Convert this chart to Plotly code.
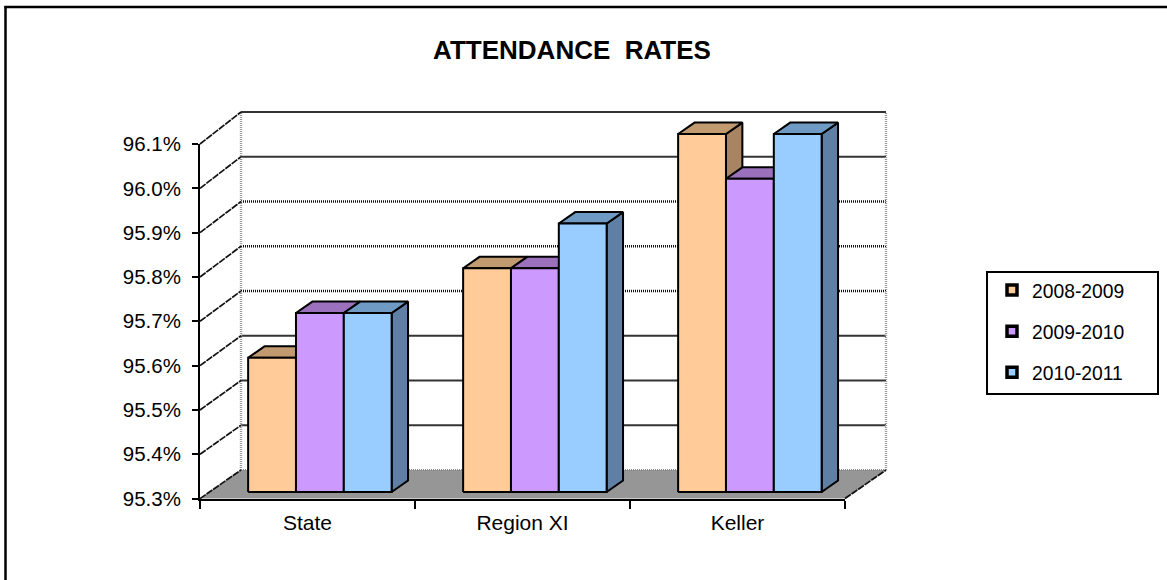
import plotly.graph_objects as go

categories = ["State", "Region XI", "Keller"]
series_names = ["2008-2009", "2009-2010", "2010-2011"]
values_2008 = [95.6, 95.8, 96.1]
values_2009 = [95.7, 95.8, 96.0]
values_2010 = [95.7, 95.9, 96.1]
series_values = [values_2008, values_2009, values_2010]
front_colors = ["#FFCC99", "#CC99FF", "#99CCFF"]
top_colors = ["#C29A70", "#9B70BD", "#6F9AC4"]
side_colors = ["#A88462", "#86649F", "#5F7FA5"]
y_ticks = [95.3, 95.4, 95.5, 95.6, 95.7, 95.8, 95.9, 96.0, 96.1]

W, H = 1167, 580
FONT = "Liberation Sans, Arial, sans-serif"
# page layout of the projected chart
X0, CAT_W = 200.0, 215.0
Y0, Y_TOP_FRONT = 498.6, 144.0
Y_SCALE = 447.5             # pixels per 1.0 on the value scale (wall and bars)
FRONT_SCALE = (Y0 - Y_TOP_FRONT) / (y_ticks[-1] - y_ticks[0])
DEPTH_X, DEPTH_Y = 41.0 / CAT_W, 28.6 / Y_SCALE
BAR_START, BAR_W = 0.18, 0.2225
BAR_FRONT_DEPTH, BAR_DEPTH = 0.23, 0.4
VBASE = y_ticks[0]


def px(p):
    return p / W


def py(p):
    return 1 - p / H


def P(cat, val, depth=0.0):
    return cat + depth * DEPTH_X, val + depth * DEPTH_Y


def poly(pts, fill, name):
    xs = [p[0] for p in pts] + [pts[0][0]]
    ys = [p[1] for p in pts] + [pts[0][1]]
    return go.Scatter(x=xs, y=ys, mode="lines", fill="toself", fillcolor=fill,
                      line=dict(color="#000000", width=2), xaxis="x2", yaxis="y2",
                      showlegend=False, hoverinfo="skip", name=name)


def line(pts, color, width, dash="solid"):
    return go.Scatter(x=[p[0] for p in pts], y=[p[1] for p in pts], mode="lines",
                      line=dict(color=color, width=width, dash=dash), xaxis="x2", yaxis="y2",
                      showlegend=False, hoverinfo="skip")


fig = go.Figure()

# invisible trace that carries the real axes
fig.add_trace(go.Scatter(x=categories, y=values_2008, mode="markers", marker=dict(opacity=0),
                         showlegend=False, hoverinfo="skip"))

n = len(categories)
# back wall gridlines
for v in y_ticks[1:]:
    dotted = 95.65 < v < 95.95
    a, b = P(0, v, 1), P(n, v, 1)
    if dotted:
        fig.add_trace(line([a, b], "#111111", 2.4, "1px,1px"))
    else:
        fig.add_trace(line([a, b], "#333333", 1.8))
# floor
fig.add_trace(go.Scatter(
    x=[P(0, VBASE)[0], P(n, VBASE)[0], P(n, VBASE, 1)[0], P(0, VBASE, 1)[0], P(0, VBASE)[0]],
    y=[P(0, VBASE)[1], P(n, VBASE)[1], P(n, VBASE, 1)[1], P(0, VBASE, 1)[1], P(0, VBASE)[1]],
    mode="lines", fill="toself", fillcolor="#969696", line=dict(width=0, color="#969696"),
    xaxis="x2", yaxis="y2", showlegend=False, hoverinfo="skip"))
# wall edges
for c in (0, n):
    fig.add_trace(line([P(c, VBASE, 1), P(c, y_ticks[-1], 1)], "#999999", 2.4, "1px,1px"))
fig.add_trace(line([P(0, VBASE, 1), P(n, VBASE, 1)], "#888888", 2, "1px,1px"))
# side wall diagonals, starting on the front axis scale
for v in y_ticks:
    vf = VBASE + (v - VBASE) * FRONT_SCALE / Y_SCALE
    fig.add_trace(line([(0, vf), P(0, v, 1)], "#111111", 1.7, "7px,1px"))
fig.add_trace(line([P(n, VBASE), P(n, VBASE, 1)], "#111111", 1.8, "7px,1px"))

# bars, painted left to right
for ci in range(n):
    for si in range(3):
        v = series_values[si][ci]
        l = ci + BAR_START + si * BAR_W
        r = l + BAR_W
        d0, d1 = BAR_FRONT_DEPTH, BAR_FRONT_DEPTH + BAR_DEPTH
        # side and top first, then front face
        fig.add_trace(poly([P(r, VBASE, d0), P(r, VBASE, d1), P(r, v, d1), P(r, v, d0)],
                           side_colors[si], series_names[si]))
        fig.add_trace(poly([P(l, v, d0), P(r, v, d0), P(r, v, d1), P(l, v, d1)],
                           top_colors[si], series_names[si]))
        fig.add_trace(poly([P(l, VBASE, d0), P(r, VBASE, d0), P(r, v, d0), P(l, v, d0)],
                           front_colors[si], series_names[si]))

# legend entries
for si, name in enumerate(series_names):
    fig.add_trace(go.Scatter(x=[None], y=[None], mode="markers", name=name, legendgroup=name,
                             marker=dict(symbol="square", size=10, color=front_colors[si],
                                         line=dict(color="#000000", width=3.5)),
                             xaxis="x2", yaxis="y2"))

# extended overlay axes, sharing the scale of the chart
L2, R2, T2, B2 = 190.0, 905.0, 100.0, 510.0
fig.update_layout(
    width=W, height=H, autosize=False,
    margin=dict(l=0, r=0, t=0, b=0, autoexpand=False),
    paper_bgcolor="#FFFFFF", plot_bgcolor="rgba(0,0,0,0)",
    font=dict(family=FONT, color="#000000"),
    title=dict(text="ATTENDANCE  RATES", x=572 / W, xanchor="center", y=py(50), yanchor="middle",
               font=dict(size=26, family=FONT, color="#000000", weight="bold")),
    xaxis=dict(type="category", categoryorder="array", categoryarray=categories,
               range=[-0.5, 2.5],
               domain=[px(X0), px(X0 + CAT_W * n)], anchor="y",
               tickson="boundaries", ticks="outside", ticklen=8, tickwidth=2, tickcolor="#000000",
               ticklabelstandoff=4,
               showline=True, linecolor="#000000", linewidth=2, showgrid=False, zeroline=False,
               tickfont=dict(size=21, family=FONT, color="#000000")),
    yaxis=dict(domain=[py(Y0), py(Y_TOP_FRONT)], range=[y_ticks[0], y_ticks[-1]], anchor="x",
               tickmode="array", tickvals=y_ticks, ticktext=[f"{v:.1f}%" for v in y_ticks],
               ticks="outside", ticklen=6, tickwidth=2, tickcolor="#000000",
               ticklabelstandoff=7,
               showline=True, linecolor="#000000", linewidth=2, showgrid=False, zeroline=False,
               tickfont=dict(size=20.5, family=FONT, color="#000000")),
    xaxis2=dict(domain=[px(L2), px(R2)], range=[(L2 - X0) / CAT_W, (R2 - X0) / CAT_W],
                anchor="y2", visible=False),
    yaxis2=dict(domain=[py(B2), py(T2)],
                range=[VBASE + (Y0 - B2) / Y_SCALE, VBASE + (Y0 - T2) / Y_SCALE],
                anchor="x2", visible=False),
    legend=dict(x=px(992), xanchor="left", y=py(271), yanchor="top", bgcolor="rgba(0,0,0,0)",
                borderwidth=0, tracegroupgap=13, font=dict(size=19.3, family=FONT, color="#000000"),
                itemclick=False, itemdoubleclick=False),
    shapes=[
        dict(type="line", xref="paper", yref="paper", x0=px(4.5), x1=1, y0=py(7), y1=py(7),
             line=dict(color="#000000", width=2.5)),
        dict(type="line", xref="paper", yref="paper", x0=px(5.5), x1=px(5.5), y0=py(6), y1=0,
             line=dict(color="#000000", width=2.5)),
        dict(type="rect", xref="paper", yref="paper", x0=px(987), x1=px(1158), y0=py(394), y1=py(272),
             line=dict(color="#000000", width=2)),
    ],
)
fig.write_html(
    "out.html",
    config={"displayModeBar": False},
    post_script="document.body.style.margin='0';"
                "var g=document.getElementById('{plot_id}');"
                "g.parentElement.style.position='absolute';"
                "g.parentElement.style.left='0';g.parentElement.style.top='0';"
                "document.documentElement.style.overflow='hidden';",
)
